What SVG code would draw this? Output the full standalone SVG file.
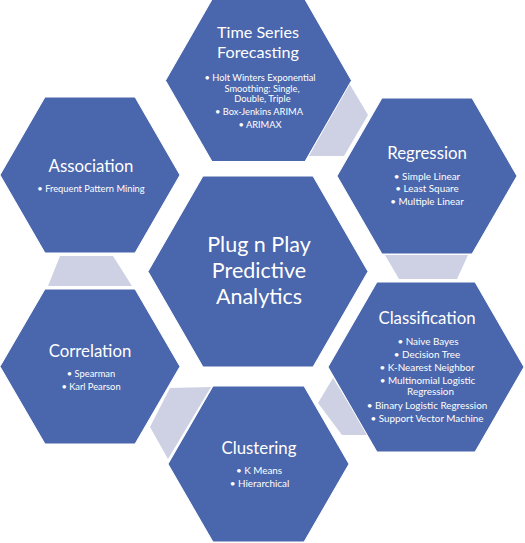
<svg xmlns="http://www.w3.org/2000/svg" width="525" height="543" viewBox="0 0 525 543">
<style>
.hex{fill:#4A66AC;stroke:#FFFFFF;stroke-width:1}
.conn{fill:#CDD1E3;stroke:none}
text{font-family:Lato,"Open Sans","Liberation Sans",sans-serif;fill:#FFFFFF;text-anchor:middle}
.t{font-size:16.8px}
.ts{font-size:16.2px}
.c{font-size:21.5px}
.b{font-size:9.3px}
.bl{font-size:9.9px}
</style>
<rect x="0" y="0" width="525" height="543" fill="#FFFFFF"/>
<g id="connectors">
<polygon class="conn" points="349,83 368,115 344,156 309,156"/>
<polygon class="conn" points="385,255 468,255 457,279 399,279"/>
<polygon class="conn" points="333,378 368,435 342,435 318,403"/>
<polygon class="conn" points="170,388 211,387 168,459 150,427"/>
<polygon class="conn" points="60,256 113,256 132,286 48,286"/>
</g>
<g id="center">
<polygon class="hex" points="148,271.5 203,176 313,176 368,271.5 313,367 203,367"/>
<text class="c" x="259" y="252"><tspan x="259" y="252">Plug n Play</tspan><tspan x="259" y="278">Predictive</tspan><tspan x="259" y="304">Analytics</tspan></text>
</g>
<g id="time-series">
<polygon class="hex" points="165.5,80.5 212,-0.5 305,-0.5 351.5,80.5 305,161.5 212,161.5"/>
<text class="ts" x="258" y="38.3">Time Series</text>
<text class="ts" x="258" y="58">Forecasting</text>
<text class="b" x="260" y="80.5">• Holt Winters Exponential</text>
<text class="b" x="262" y="91.5">Smoothing: Single,</text>
<text class="b" x="262.5" y="102">Double, Triple</text>
<text class="b" x="259" y="115">• Box-Jenkins ARIMA</text>
<text class="b" x="260" y="128">• ARIMAX</text>
</g>
<g id="regression">
<polygon class="hex" points="337,176 382,98 472,98 517,176 472,254 382,254"/>
<text class="t" x="427" y="158.5">Regression</text>
<text class="bl" x="427" y="179.5">• Simple Linear</text>
<text class="bl" x="427" y="192">• Least Square</text>
<text class="bl" x="427" y="204.5">• Multiple Linear</text>
</g>
<g id="classification">
<polygon class="hex" points="328,367 377,282 475,282 524,367 475,452 377,452"/>
<text class="t" x="427" y="324">Classification</text>
<text class="bl" x="428" y="345">• Naive Bayes</text>
<text class="bl" x="427" y="358.3">• Decision Tree</text>
<text class="bl" x="427" y="371">• K-Nearest Neighbor</text>
<text class="bl" x="427.5" y="384">• Multinomial Logistic</text>
<text class="bl" x="430.5" y="395">Regression</text>
<text class="bl" x="427" y="408.5">• Binary Logistic Regression</text>
<text class="bl" x="427" y="421.5">• Support Vector Machine</text>
</g>
<g id="clustering">
<polygon class="hex" points="168,464 213,386 304,386 349,464 304,542 213,542"/>
<text class="t" x="259" y="454">Clustering</text>
<text class="bl" x="259" y="474.3">• K Means</text>
<text class="bl" x="259.5" y="487.3">• Hierarchical</text>
</g>
<g id="correlation">
<polygon class="hex" points="0,366.5 45,289 135,289 180,366.5 135,444 45,444"/>
<text class="t" x="90" y="356.5">Correlation</text>
<text class="b" x="91" y="377.3">• Spearman</text>
<text class="b" x="91" y="390">• Karl Pearson</text>
</g>
<g id="association">
<polygon class="hex" points="0,175 45,97 135,97 180,175 135,253 45,253"/>
<text class="t" x="91" y="171.5">Association</text>
<text class="b" x="91" y="191.5">• Frequent Pattern Mining</text>
</g>
</svg>
